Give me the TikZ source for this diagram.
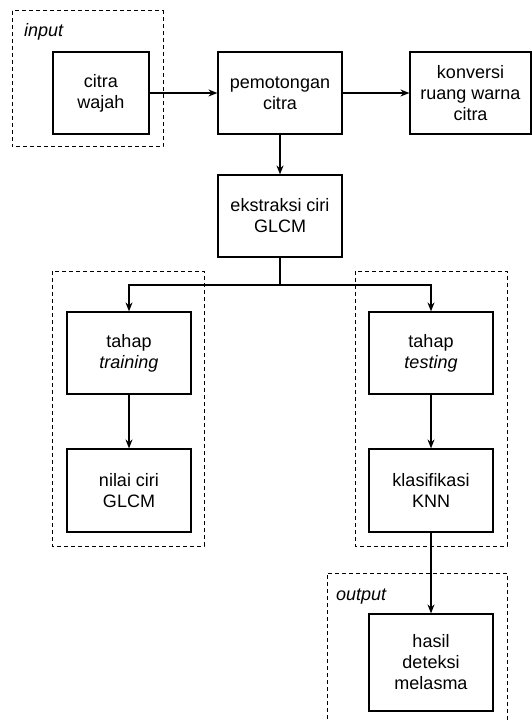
\documentclass[tikz,border=0pt]{standalone}
\usepackage{fontspec}
\setmainfont{Liberation Sans}
\usetikzlibrary{
  arrows.meta,  % Stealth 箭头
  positioning   % 节点相对定位
}

\begin{document}
\begin{tikzpicture}[x=1pt, y=-1pt, >={Stealth[length=9pt, width=7pt]},
    proses/.style={draw, line width=1.2pt, align=center, inner sep=0pt,
      minimum width=124pt, minimum height=82pt,
      font=\fontsize{18}{21}\selectfont},
    kelompok/.style={draw, line width=1pt, dash pattern=on 4pt off 3pt},
    label/.style={anchor=base west, inner sep=0pt,
      font=\fontsize{18}{21}\selectfont\itshape},
    alur/.style={->, line width=1.2pt}]
  \useasboundingbox (0,0) rectangle (532,722);

  % === 分组虚线框 ===
  \draw[kelompok] (12,11) rectangle (163,147);
  \draw[kelompok] (52,271) rectangle (204,546);
  \draw[kelompok] (355,271) rectangle (507,546);
  \draw[kelompok] (327,740) -- (327,573) -- (507,573) -- (507,740);
  \node[label] (lblinput) at (24,37) {input};
  \node[label] (lbloutput) at (336,600) {output};

  % === 处理框 ===
  \node[proses, minimum width=96pt] (citra) at (101,93) {citra\\wajah};
  \node[proses] (potong) at (280,93) {pemotongan\\citra};
  \node[proses, minimum width=121pt] (konversi) at (470.5,93) {konversi\\ruang warna\\citra};
  \node[proses] (ekstraksi) at (280,216) {ekstraksi ciri\\GLCM};
  \node[proses] (training) at (129,353) {tahap\\\textit{training}};
  \node[proses, minimum height=83pt] (nilai) at (129,490.5) {nilai ciri\\GLCM};
  \node[proses] (testing) at (431,353) {tahap\\\textit{testing}};
  \node[proses, minimum height=83pt] (knn) at (431,490.5) {klasifikasi\\KNN};
  \node[proses, minimum height=97pt] (hasil) at (431,662.5) {hasil\\deteksi\\melasma};

  % === 连线 ===
  \coordinate (cabang) at (280,285);
  \draw[alur] (citra) -- (potong);
  \draw[alur] (potong) -- (konversi);
  \draw[alur] (potong) -- (ekstraksi);
  \draw[line width=1.2pt] (ekstraksi) -- (cabang);
  \draw[alur] (cabang) -| (training);
  \draw[alur] (cabang) -| (testing);
  \draw[alur] (training) -- (nilai);
  \draw[alur] (testing) -- (knn);
  \draw[alur] (knn) -- (hasil);
\end{tikzpicture}
\end{document}
